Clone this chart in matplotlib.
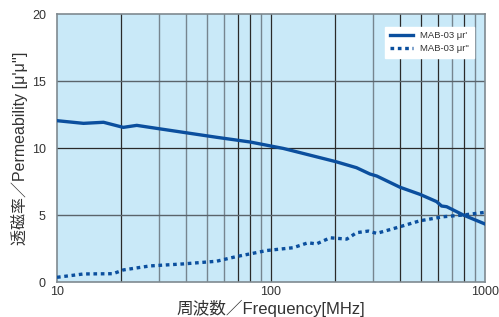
import matplotlib
matplotlib.use("Agg")
import matplotlib.pyplot as plt
from matplotlib.ticker import FixedLocator, NullLocator

plt.rcParams['font.family'] = ['Liberation Sans', 'Noto Sans CJK JP', 'DejaVu Sans']

freq_real = [10, 13.3, 16.5, 20.4, 23.6, 27.2, 38.9, 55.7, 79.8, 114, 137,
             201, 251, 290, 312, 401, 497, 594, 627, 662, 792, 1000]
mu_real = [12.04, 11.84, 11.92, 11.54, 11.69, 11.54, 11.17, 10.8, 10.45, 9.97, 9.65,
           8.98, 8.53, 8.06, 7.91, 7.07, 6.54, 6.0, 5.67, 5.62, 5.0, 4.33]

# mu'' (imaginary part)
freq_imag = [10, 13.3, 18.3, 20.4, 27.2, 38.9, 55.7, 69, 80, 95.5, 127, 149, 163,
             189, 226, 251, 285, 312, 386, 497, 638, 792, 1000]
mu_imag = [0.35, 0.6, 0.62, 0.9, 1.2, 1.35, 1.55, 1.9, 2.1, 2.35, 2.56, 2.93, 2.84,
           3.3, 3.2, 3.68, 3.8, 3.63, 4.05, 4.57, 4.87, 5.0, 5.2]

x_ticks = [10, 100, 1000]
y_ticks = [0, 5, 10, 15, 20]
dark_grid = [20, 70, 80, 100, 200, 400, 500, 600, 800]
light_grid = [30, 40, 50, 60, 90, 300, 700, 900]

line_color = '#0b4f9e'
text_color = '#333333'

fig = plt.figure(figsize=(4.99, 3.17), dpi=100)
ax = fig.add_axes([0.1142, 0.1104, 0.8577, 0.8454])
ax.set_facecolor('#c9e9f8')

ax.set_xscale('log')
ax.set_xlim(10, 1000)
ax.set_ylim(0, 20)

for f in dark_grid:
    ax.axvline(f, color='#2a2a2a', lw=0.9, zorder=1)
for f in light_grid:
    ax.axvline(f, color='#76858f', lw=1.0, zorder=1)
ax.axhline(10, color='#2a2a2a', lw=0.9, zorder=1)
for v in (5, 15):
    ax.axhline(v, color='#5a646b', lw=1.0, zorder=1)

ax.plot(freq_real, mu_real, color=line_color, lw=2.4, label="MAB-03 μr'", zorder=3)
ax.plot(freq_imag, mu_imag, color=line_color, lw=2.4, ls=(0, (1.1, 1.1)),
        label="MAB-03 μr''", zorder=3)

ax.xaxis.set_major_locator(FixedLocator(x_ticks))
ax.xaxis.set_minor_locator(NullLocator())
ax.set_xticklabels([str(t) for t in x_ticks], fontsize=9)
ax.set_yticks(y_ticks)
ax.set_yticklabels([str(t) for t in y_ticks], fontsize=9)
ax.tick_params(which='both', length=0, colors=text_color)
ax.tick_params(axis='x', pad=3)
ax.tick_params(axis='y', pad=8)

for s in ax.spines.values():
    s.set_color('#7f8a90')
    s.set_linewidth(1.2)

ax.set_xlabel('周波数／Frequency[MHz]', fontsize=12, color=text_color, labelpad=1)
ax.set_ylabel("透磁率／Permeability [μ'μ'']", fontsize=11.5, color=text_color, labelpad=3)

leg = ax.legend(loc='upper right', fontsize=6.8, frameon=True, fancybox=False,
                handlelength=2.4, borderpad=0.5, labelspacing=0.4,
                bbox_to_anchor=(0.985, 0.97))
leg.get_frame().set_facecolor('white')
leg.get_frame().set_edgecolor('white')
leg.get_frame().set_alpha(1)
for t in leg.get_texts():
    t.set_color(text_color)

fig.savefig('out.png', dpi=100)
